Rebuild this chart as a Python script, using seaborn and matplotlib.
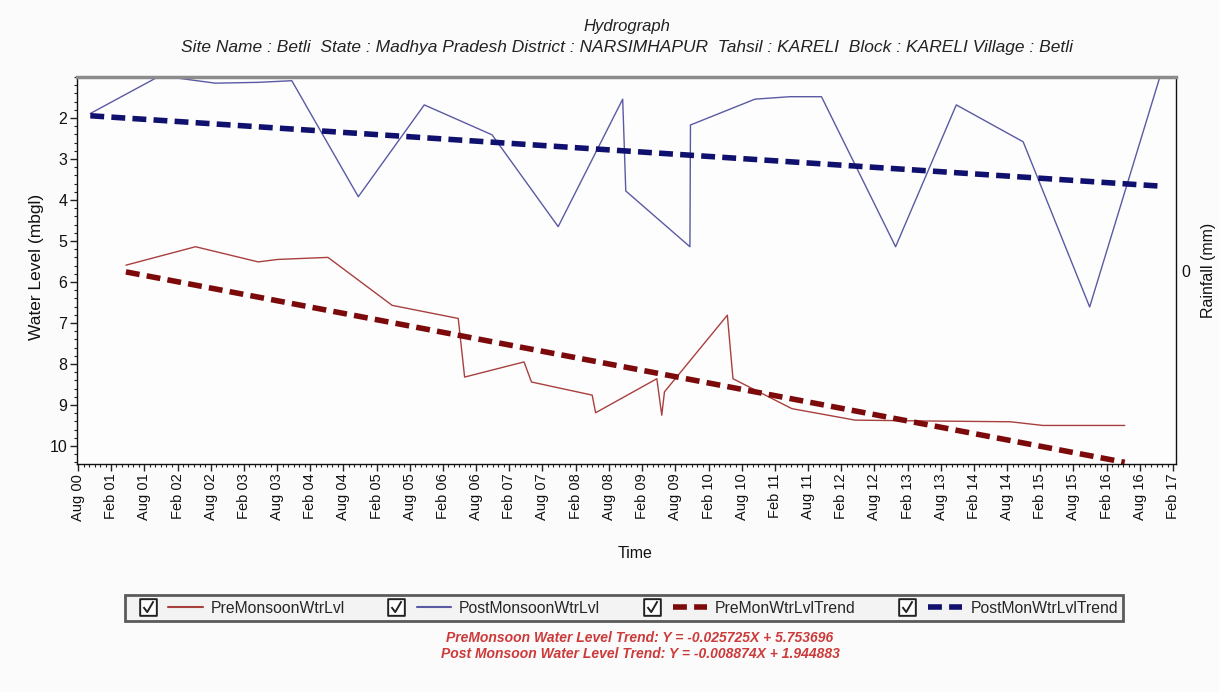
import numpy as np
import pandas as pd
import matplotlib
matplotlib.use("Agg")
import matplotlib.pyplot as plt
import matplotlib.dates as mdates
from matplotlib.path import Path
from matplotlib.lines import Line2D
from matplotlib.legend_handler import HandlerTuple
import seaborn as sns

# ---- observed water levels (metres below ground level) ----
pre_dates = ["2001-04-22", "2002-05-10", "2003-04-20", "2003-08-05", "2004-05-08",
             "2005-04-26", "2006-04-25", "2006-05-30", "2007-04-22", "2007-06-02",
             "2008-05-01", "2008-05-20", "2009-04-22", "2009-05-19", "2009-06-03",
             "2010-05-15", "2010-06-15", "2011-05-05", "2012-04-17", "2013-04-25",
             "2014-08-20", "2015-02-15", "2016-05-10"]
pre_levels = [5.59, 5.14, 5.51, 5.45, 5.40,
              6.57, 6.89, 8.32, 7.95, 8.44,
              8.76, 9.19, 8.36, 9.25, 8.68,
              6.81, 8.36, 9.09, 9.37, 9.39,
              9.41, 9.50, 9.50]

post_dates = ["2000-10-08", "2001-10-27", "2002-08-27", "2003-04-20", "2003-10-22",
              "2004-10-22", "2005-10-20", "2006-10-28", "2007-10-27", "2008-10-16",
              "2008-11-02", "2009-10-21", "2009-10-24", "2010-10-14", "2011-04-25",
              "2011-10-15", "2012-11-26", "2013-10-26", "2014-10-29", "2015-10-30",
              "2016-11-20"]
post_levels = [1.89, 0.97, 1.15, 1.13, 1.09,
               3.92, 1.68, 2.41, 4.65, 1.54,
               3.78, 5.14, 2.17, 1.54, 1.48,
               1.48, 5.14, 1.68, 2.58, 6.61,
               0.99]

# ---- linear trend coefficients (X in months from first reading) ----
pre_slope, pre_intercept = -0.025725, 5.753696
post_slope, post_intercept = -0.008874, 1.944883

series_labels = ["PreMonsoonWtrLvl", "PostMonsoonWtrLvl",
                 "PreMonWtrLvlTrend", "PostMonWtrLvlTrend"]

PRE_COLOR = "#a8403e"
POST_COLOR = "#5a5aa4"
PRE_TREND = "#7d0a0a"
POST_TREND = "#10106e"


def trend_frame(dates, slope, intercept):
    d = pd.to_datetime([dates[0], dates[-1]])
    months = (d - d[0]).days / (365.25 / 12)
    depth = intercept - slope * np.asarray(months)
    return pd.DataFrame({"date": d, "level": depth})


pre_df = pd.DataFrame({"date": pd.to_datetime(pre_dates), "level": pre_levels})
post_df = pd.DataFrame({"date": pd.to_datetime(post_dates), "level": post_levels})
pre_tr = trend_frame(pre_dates, pre_slope, pre_intercept)
post_tr = trend_frame(post_dates, post_slope, post_intercept)

sns.set_theme(style="white")
plt.rcParams["font.family"] = ["Liberation Sans", "DejaVu Sans"]

fig = plt.figure(figsize=(12.19, 6.92), dpi=100, facecolor="#fbfbfb")
ax = fig.add_axes([0.0632, 0.3295, 0.9015, 0.5592])
ax.set_facecolor("#fdfdfd")

dash = (2.5, 1.3)
sns.lineplot(data=pre_df, x="date", y="level", ax=ax, color=PRE_COLOR, lw=1.0,
             estimator=None, sort=False)
sns.lineplot(data=post_df, x="date", y="level", ax=ax, color=POST_COLOR, lw=1.0,
             estimator=None, sort=False)
sns.lineplot(data=pre_tr, x="date", y="level", ax=ax, color=PRE_TREND, lw=4.0,
             estimator=None, sort=False)
sns.lineplot(data=post_tr, x="date", y="level", ax=ax, color=POST_TREND, lw=4.0,
             estimator=None, sort=False)
lines = ax.get_lines()
for ln in lines[2:4]:
    ln.set_dashes(dash)
    ln.set_dash_capstyle("butt")

ax.set_xlim(pd.Timestamp("2000-07-27"), pd.Timestamp("2017-02-16"))
ax.set_ylim(10.44, 1.0)

ax.xaxis.set_major_locator(mdates.MonthLocator(bymonth=[2, 8]))
ax.xaxis.set_minor_locator(mdates.MonthLocator())
ax.xaxis.set_major_formatter(mdates.DateFormatter("%b %y"))
ax.set_yticks(range(2, 11))
ax.yaxis.set_minor_locator(matplotlib.ticker.MultipleLocator(0.2))
ax.tick_params(axis="both", which="major", direction="out", length=5, width=1,
               color="#222222", labelcolor="#111111")
ax.tick_params(axis="both", which="minor", direction="out", length=2.5, width=0.8,
               color="#222222")
ax.tick_params(axis="x", which="major", labelsize=10.5, labelrotation=90, pad=2)
ax.tick_params(axis="y", which="major", labelsize=11.5, pad=2)
ax.tick_params(left=True, bottom=True, which="both")

ax.set_xlabel("Time", fontsize=11.5, color="#111111")
ax.xaxis.set_label_coords(0.508, -0.212)
ax.set_ylabel("Water Level (mbgl)", fontsize=12.5, color="#111111")
ax.yaxis.set_label_coords(-0.030, 0.51)

for side, sp in ax.spines.items():
    sp.set_visible(True)
    sp.set_color("#111111")
    sp.set_linewidth(1.0)
ax.spines["top"].set_color("#8c8c8c")
ax.spines["top"].set_linewidth(2.5)

# rainfall axis on the right (no rainfall series recorded)
ax2 = ax.twinx()
ax2.set_ylim(-1, 1)
ax2.set_yticks([0])
ax2.set_yticklabels(["0"])
ax2.tick_params(axis="y", direction="out", length=0, labelsize=11.5, pad=4,
                labelcolor="#111111")
ax2.set_ylabel("Rainfall (mm)", fontsize=11.5, color="#111111")
ax2.yaxis.set_label_coords(1.023, 0.5)
for sp in ax2.spines.values():
    sp.set_visible(False)
ax2.grid(False)
ax.grid(False)

# titles
fig.text(0.514, 0.961, "Hydrograph", ha="center", va="center",
         fontsize=12, style="italic", color="#222222")
fig.text(0.514, 0.932,
         "Site Name : Betli  State : Madhya Pradesh District : NARSIMHAPUR  "
         "Tahsil : KARELI  Block : KARELI Village : Betli",
         ha="center", va="center", fontsize=12.5, style="italic", color="#222222")

# legend with check boxes
box_path = Path([(-1, -1), (1, -1), (1, 1), (-1, 1), (-1, -1),
                 (-0.6, 0.05), (-0.15, -0.55), (0.6, 0.75)],
                [Path.MOVETO, Path.LINETO, Path.LINETO, Path.LINETO, Path.CLOSEPOLY,
                 Path.MOVETO, Path.LINETO, Path.LINETO])


def checkbox():
    return Line2D([], [], marker=box_path, markersize=12, markerfacecolor="white",
                  markeredgecolor="#222222", markeredgewidth=1.4, linestyle="none")


h_pre = Line2D([], [], color=PRE_COLOR, lw=1.5)
h_post = Line2D([], [], color=POST_COLOR, lw=1.5)
h_pre_tr = Line2D([], [], color=PRE_TREND, lw=4.0, dashes=dash)
h_post_tr = Line2D([], [], color=POST_TREND, lw=4.0, dashes=dash)
handles = [(checkbox(), h_pre), (checkbox(), h_post),
           (checkbox(), h_pre_tr), (checkbox(), h_post_tr)]
leg = fig.legend(handles, series_labels, loc="center", bbox_to_anchor=(0.512, 0.121),
                 ncol=4, handler_map={tuple: HandlerTuple(ndivide=None, pad=0.2)},
                 handlelength=4.6, handletextpad=0.5, columnspacing=2.2,
                 fontsize=11.3, frameon=True, fancybox=False, borderpad=0.35)
leg.get_frame().set_edgecolor("#333333")
leg.get_frame().set_linewidth(2.0)
leg.get_frame().set_facecolor("#f2f2f2")

# trend equations
fig.text(0.525, 0.078,
         f"PreMonsoon Water Level Trend: Y = {pre_slope}X + {pre_intercept}",
         ha="center", va="center", fontsize=10, style="italic", weight="bold",
         color="#cc3a3a")
fig.text(0.525, 0.055,
         f"Post Monsoon Water Level Trend: Y = {post_slope}X + {post_intercept}",
         ha="center", va="center", fontsize=10, style="italic", weight="bold",
         color="#cc3a3a")

fig.savefig("out.png", dpi=100, facecolor=fig.get_facecolor())
